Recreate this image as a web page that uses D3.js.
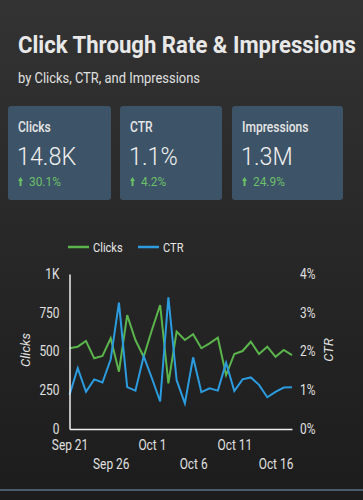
<!DOCTYPE html>
<html>
<head>
<meta charset="utf-8">
<script src="https://cdn.jsdelivr.net/npm/d3@7"></script>
<style>
  html, body { margin: 0; padding: 0; background: #222; }
  svg { display: block; font-family: Roboto, "Noto Sans", sans-serif; }
</style>
</head>
<body>
<svg width="363" height="500" viewBox="0 0 363 500"></svg>
<script>
// data
var days = ["2020-09-21","2020-09-22","2020-09-23","2020-09-24","2020-09-25","2020-09-26","2020-09-27",
  "2020-09-28","2020-09-29","2020-09-30","2020-10-01","2020-10-02","2020-10-03","2020-10-04",
  "2020-10-05","2020-10-06","2020-10-07","2020-10-08","2020-10-09","2020-10-10","2020-10-11",
  "2020-10-12","2020-10-13","2020-10-14","2020-10-15","2020-10-16","2020-10-17","2020-10-18"];
var clicks = [521, 531, 568, 456, 471, 585, 370, 735, 574, 466, 639, 800, 295, 628,
  574, 611, 521, 553, 589, 348, 484, 503, 563, 484, 531, 466, 510, 477];
var ctr = [0.88, 1.57, 0.96, 1.28, 1.20, 1.80, 3.26, 1.08, 0.99, 1.88, 1.31, 0.71, 3.40, 1.26,
  0.66, 1.85, 0.95, 1.05, 0.99, 1.71, 0.98, 1.28, 1.33, 1.14, 0.82, 0.96, 1.07, 1.08];
var cardNames = ["Clicks", "CTR", "Impressions"];
var cardValues = ["14.8K", "1.1%", "1.3M"];
var cardChanges = ["30.1%", "4.2%", "24.9%"];
var leftTicks = [0, 250, 500, 750, 1000];
var rightTicks = [0, 1, 2, 3, 4];

var parse = d3.timeParse("%Y-%m-%d");
var dates = days.map(parse);

var svg = d3.select("svg");
var width = 363, height = 500;

// squeeze roboto a bit, the original uses a condensed face
function condense(sel, k) {
  sel.each(function() {
    var w = this.getComputedTextLength();
    d3.select(this).attr("textLength", w * k).attr("lengthAdjust", "spacingAndGlyphs");
  });
}

var defs = svg.append("defs");
var grad = defs.append("linearGradient").attr("id", "bg")
  .attr("x1", 0).attr("y1", 0).attr("x2", 0).attr("y2", 1);
grad.append("stop").attr("offset", "0%").attr("stop-color", "#333333");
grad.append("stop").attr("offset", "100%").attr("stop-color", "#1c1c1c");

svg.append("rect").attr("width", width).attr("height", height).attr("fill", "url(#bg)");

// title, scaled horizontally so it fits like the condensed original
var title = svg.append("g").attr("transform", "translate(18,53)");
var titleText = title.append("text")
  .attr("fill", "#e8e8e8")
  .attr("font-size", 24.5)
  .attr("font-weight", 700)
  .text("Click Through Rate & Impressions");
var tw = titleText.node().getComputedTextLength();
titleText.attr("transform", "scale(" + (338 / tw) + ",1)");

svg.append("text")
  .attr("x", 18).attr("y", 83)
  .attr("fill", "#e0e0e0")
  .attr("font-size", 14.5)
  .attr("textLength", 182).attr("lengthAdjust", "spacingAndGlyphs")
  .text("by Clicks, CTR, and Impressions");

// cards
var cardX = [8, 120, 232];
var cardW = [103, 102, 111];
var cards = svg.selectAll(".card")
  .data(cardNames)
  .enter().append("g")
  .attr("class", "card")
  .attr("transform", function(d, i) { return "translate(" + cardX[i] + ",106)"; });

cards.append("rect")
  .attr("width", function(d, i) { return cardW[i]; })
  .attr("height", 94)
  .attr("rx", 3)
  .attr("fill", "#3d5367");

cards.append("text")
  .attr("x", 10).attr("y", 26)
  .attr("fill", "#e6e6e6")
  .attr("font-size", 14)
  .attr("font-weight", 500)
  .text(function(d) { return d; })
  .call(condense, 0.86);

cards.append("text")
  .attr("x", 9).attr("y", 58.5)
  .attr("fill", "#f0f0f0")
  .attr("font-size", 26.5)
  .attr("font-weight", 300)
  .text(function(d, i) { return cardValues[i]; })
  .call(condense, 0.88);

cards.append("path")
  .attr("d", "M10,75 L12.5,71 L15,75 L13.5,75 L13.5,80 L11.5,80 L11.5,75 Z")
  .attr("fill", "#6cc06a");

cards.append("text")
  .attr("x", 21).attr("y", 80)
  .attr("fill", "#6cc06a")
  .attr("font-size", 13.5)
  .text(function(d, i) { return cardChanges[i]; })
  .call(condense, 0.88);

// chart
var x = d3.scaleTime()
  .domain([dates[0], dates[dates.length - 1]])
  .range([69.5, 292]);
var yL = d3.scaleLinear().domain([0, 1000]).range([429, 274]);
var yR = d3.scaleLinear().domain([0, 4]).range([429, 274]);

var green = "#5bb54c", blue = "#2c9ce0";

// legend
var legend = svg.append("g").attr("transform", "translate(68,247)");
var legendItems = [["Clicks", green, 0], ["CTR", blue, 70]];
legendItems.forEach(function(l) {
  legend.append("line")
    .attr("x1", l[2]).attr("x2", l[2] + 21)
    .attr("stroke", l[1]).attr("stroke-width", 2.5);
  legend.append("text")
    .attr("x", l[2] + 25).attr("y", 4.5)
    .attr("fill", "#e6e6e6")
    .attr("font-size", 13)
    .text(l[0])
    .call(condense, 0.85);
});

var lineL = d3.line().x(function(d, i) { return x(dates[i]); }).y(function(d) { return yL(d); });
var lineR = d3.line().x(function(d, i) { return x(dates[i]); }).y(function(d) { return yR(d); });

svg.append("path").datum(clicks)
  .attr("d", lineL)
  .attr("fill", "none")
  .attr("stroke", green)
  .attr("stroke-width", 2)
  .attr("stroke-linejoin", "miter");

svg.append("path").datum(ctr)
  .attr("d", lineR)
  .attr("fill", "none")
  .attr("stroke", blue)
  .attr("stroke-width", 2)
  .attr("stroke-linejoin", "miter");

// axes
var axisL = svg.append("g")
  .attr("transform", "translate(69.5,0)")
  .call(d3.axisLeft(yL).tickValues(leftTicks).tickSize(0).tickPadding(10)
    .tickFormat(function(d) { return d >= 1000 ? (d / 1000) + "K" : d; }));
axisL.select(".domain").attr("stroke", "#eeeeee").attr("stroke-width", 1.5);
axisL.selectAll("text")
  .attr("fill", "#e0e0e0").attr("font-size", 14).attr("font-family", "Roboto")
  .call(condense, 0.85);

var axisR = svg.append("g")
  .attr("transform", "translate(292,0)")
  .call(d3.axisRight(yR).tickValues(rightTicks).tickSize(0).tickPadding(8)
    .tickFormat(function(d) { return d + "%"; }));
axisR.select(".domain").remove();
axisR.selectAll("text")
  .attr("fill", "#e0e0e0").attr("font-size", 14).attr("font-family", "Roboto")
  .call(condense, 0.85);

var xTicks = dates.filter(function(d, i) { return i % 5 === 0; });
var axisB = svg.append("g")
  .attr("transform", "translate(0,429)")
  .call(d3.axisBottom(x).tickValues(xTicks).tickSize(0)
    .tickFormat(d3.timeFormat("%b %-d")));
axisB.select(".domain").attr("stroke", "#eeeeee").attr("stroke-width", 1.5);
axisB.selectAll("text")
  .attr("fill", "#e0e0e0").attr("font-size", 14).attr("font-family", "Roboto")
  .attr("y", function(d, i) { return i % 2 === 0 ? 11 : 30; })
  .call(condense, 0.85);

// axis titles
svg.append("text")
  .attr("transform", "translate(30,350) rotate(-90)")
  .attr("text-anchor", "middle")
  .attr("fill", "#e0e0e0")
  .attr("font-size", 13)
  .attr("font-style", "italic")
  .text("Clicks");

svg.append("text")
  .attr("transform", "translate(333,350) rotate(-90)")
  .attr("text-anchor", "middle")
  .attr("fill", "#e0e0e0")
  .attr("font-size", 13)
  .attr("font-style", "italic")
  .text("CTR");

// bottom rule
svg.append("rect")
  .attr("x", 0).attr("y", 489).attr("width", width).attr("height", 2)
  .attr("fill", "#4a5c6c");
</script>
</body>
</html>
